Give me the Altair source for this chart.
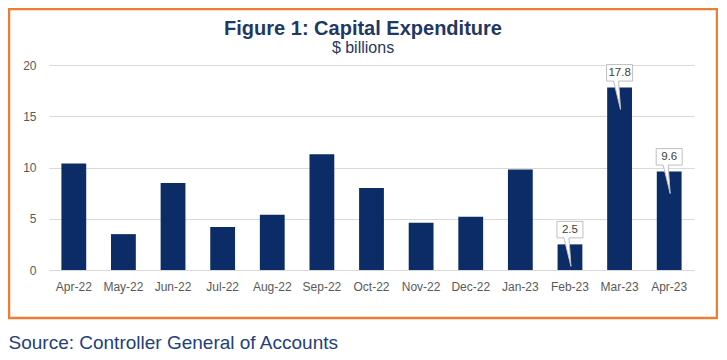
import altair as alt
import pandas as pd

months = ["Apr-22", "May-22", "Jun-22", "Jul-22", "Aug-22", "Sep-22", "Oct-22",
          "Nov-22", "Dec-22", "Jan-23", "Feb-23", "Mar-23", "Apr-23"]
values = [10.4, 3.5, 8.5, 4.2, 5.4, 11.3, 8.0, 4.6, 5.2, 9.8, 2.5, 17.8, 9.6]
callouts = [None, None, None, None, None, None, None, None, None, None, "2.5", "17.8", "9.6"]
title_text = "Figure 1: Capital Expenditure"
subtitle_text = "$ billions"
source_text = "Source: Controller General of Accounts"

df = pd.DataFrame({"month": months, "value": values, "label": callouts})
lab = df.dropna(subset=["label"])

NAVY = "#1F3864"
BAR = "#0B2C66"
FONT = "Liberation Sans"

x = alt.X("month:N", sort=months,
          scale=alt.Scale(paddingInner=0.5, paddingOuter=0.25),
          axis=alt.Axis(title=source_text, labelAngle=0,
                        labelFontSize=12, labelColor="#595959", labelFont=FONT,
                        labelPadding=11, domain=False, ticks=False,
                        titleX=-41, titleY=72, titleAlign="left", titleAnchor="start",
                        titleBaseline="middle", titleFontSize=19, titleFontWeight="normal",
                        titleColor="#23407A", titleFont=FONT))
y = alt.Y("value:Q", scale=alt.Scale(domain=[0, 20]),
          axis=alt.Axis(title=None, values=[0, 5, 10, 15, 20], labelFontSize=12,
                        labelColor="#595959", labelFont=FONT, labelPadding=13,
                        domain=False, ticks=False, gridColor="#D9D9D9"))

bars = alt.Chart(df).mark_bar(color=BAR).encode(x=x, y=y)

callout_shape = "M-1.04,-1.84L1.04,-1.84L1.04,-0.52L-0.08,-0.52L0.08,1.76L-0.48,-0.52L-1.04,-0.52Z"
boxes = alt.Chart(lab).mark_point(shape=callout_shape, size=625, filled=True,
                                  fill="white", stroke="#BFBFBF", strokeWidth=1,
                                  opacity=1).encode(x=x, y=y)
texts = alt.Chart(lab).mark_text(dy=-14.5, baseline="middle", fontSize=11.5,
                                 color="#404040", font=FONT).encode(x=x, y=y, text="label:N")

one = alt.Data(values=[{}])
frame = alt.Chart(one).mark_rect(
    fill=None, stroke="#ED7D31", strokeWidth=2.5).encode(
    x=alt.value(-40), x2=alt.value(668), y=alt.value(-56), y2=alt.value(253))
title = alt.Chart(one).mark_text(text=title_text, fontSize=20, fontWeight="bold",
                                 font=FONT, color=NAVY, baseline="middle").encode(
    x=alt.value(314), y=alt.value(-36))
subtitle = alt.Chart(one).mark_text(text=subtitle_text, fontSize=16,
                                    font=FONT, color=NAVY, baseline="middle").encode(
    x=alt.value(314), y=alt.value(-17))

chart = alt.layer(bars, boxes, texts, frame, title, subtitle).properties(
    width=645, height=205,
    autosize=alt.AutoSizeParams(type="none"),
    padding={"left": 41, "top": 57, "right": 24, "bottom": 82},
).configure_view(stroke=None)

chart.save("out.html", embed_options={"renderer": "svg", "actions": False})
